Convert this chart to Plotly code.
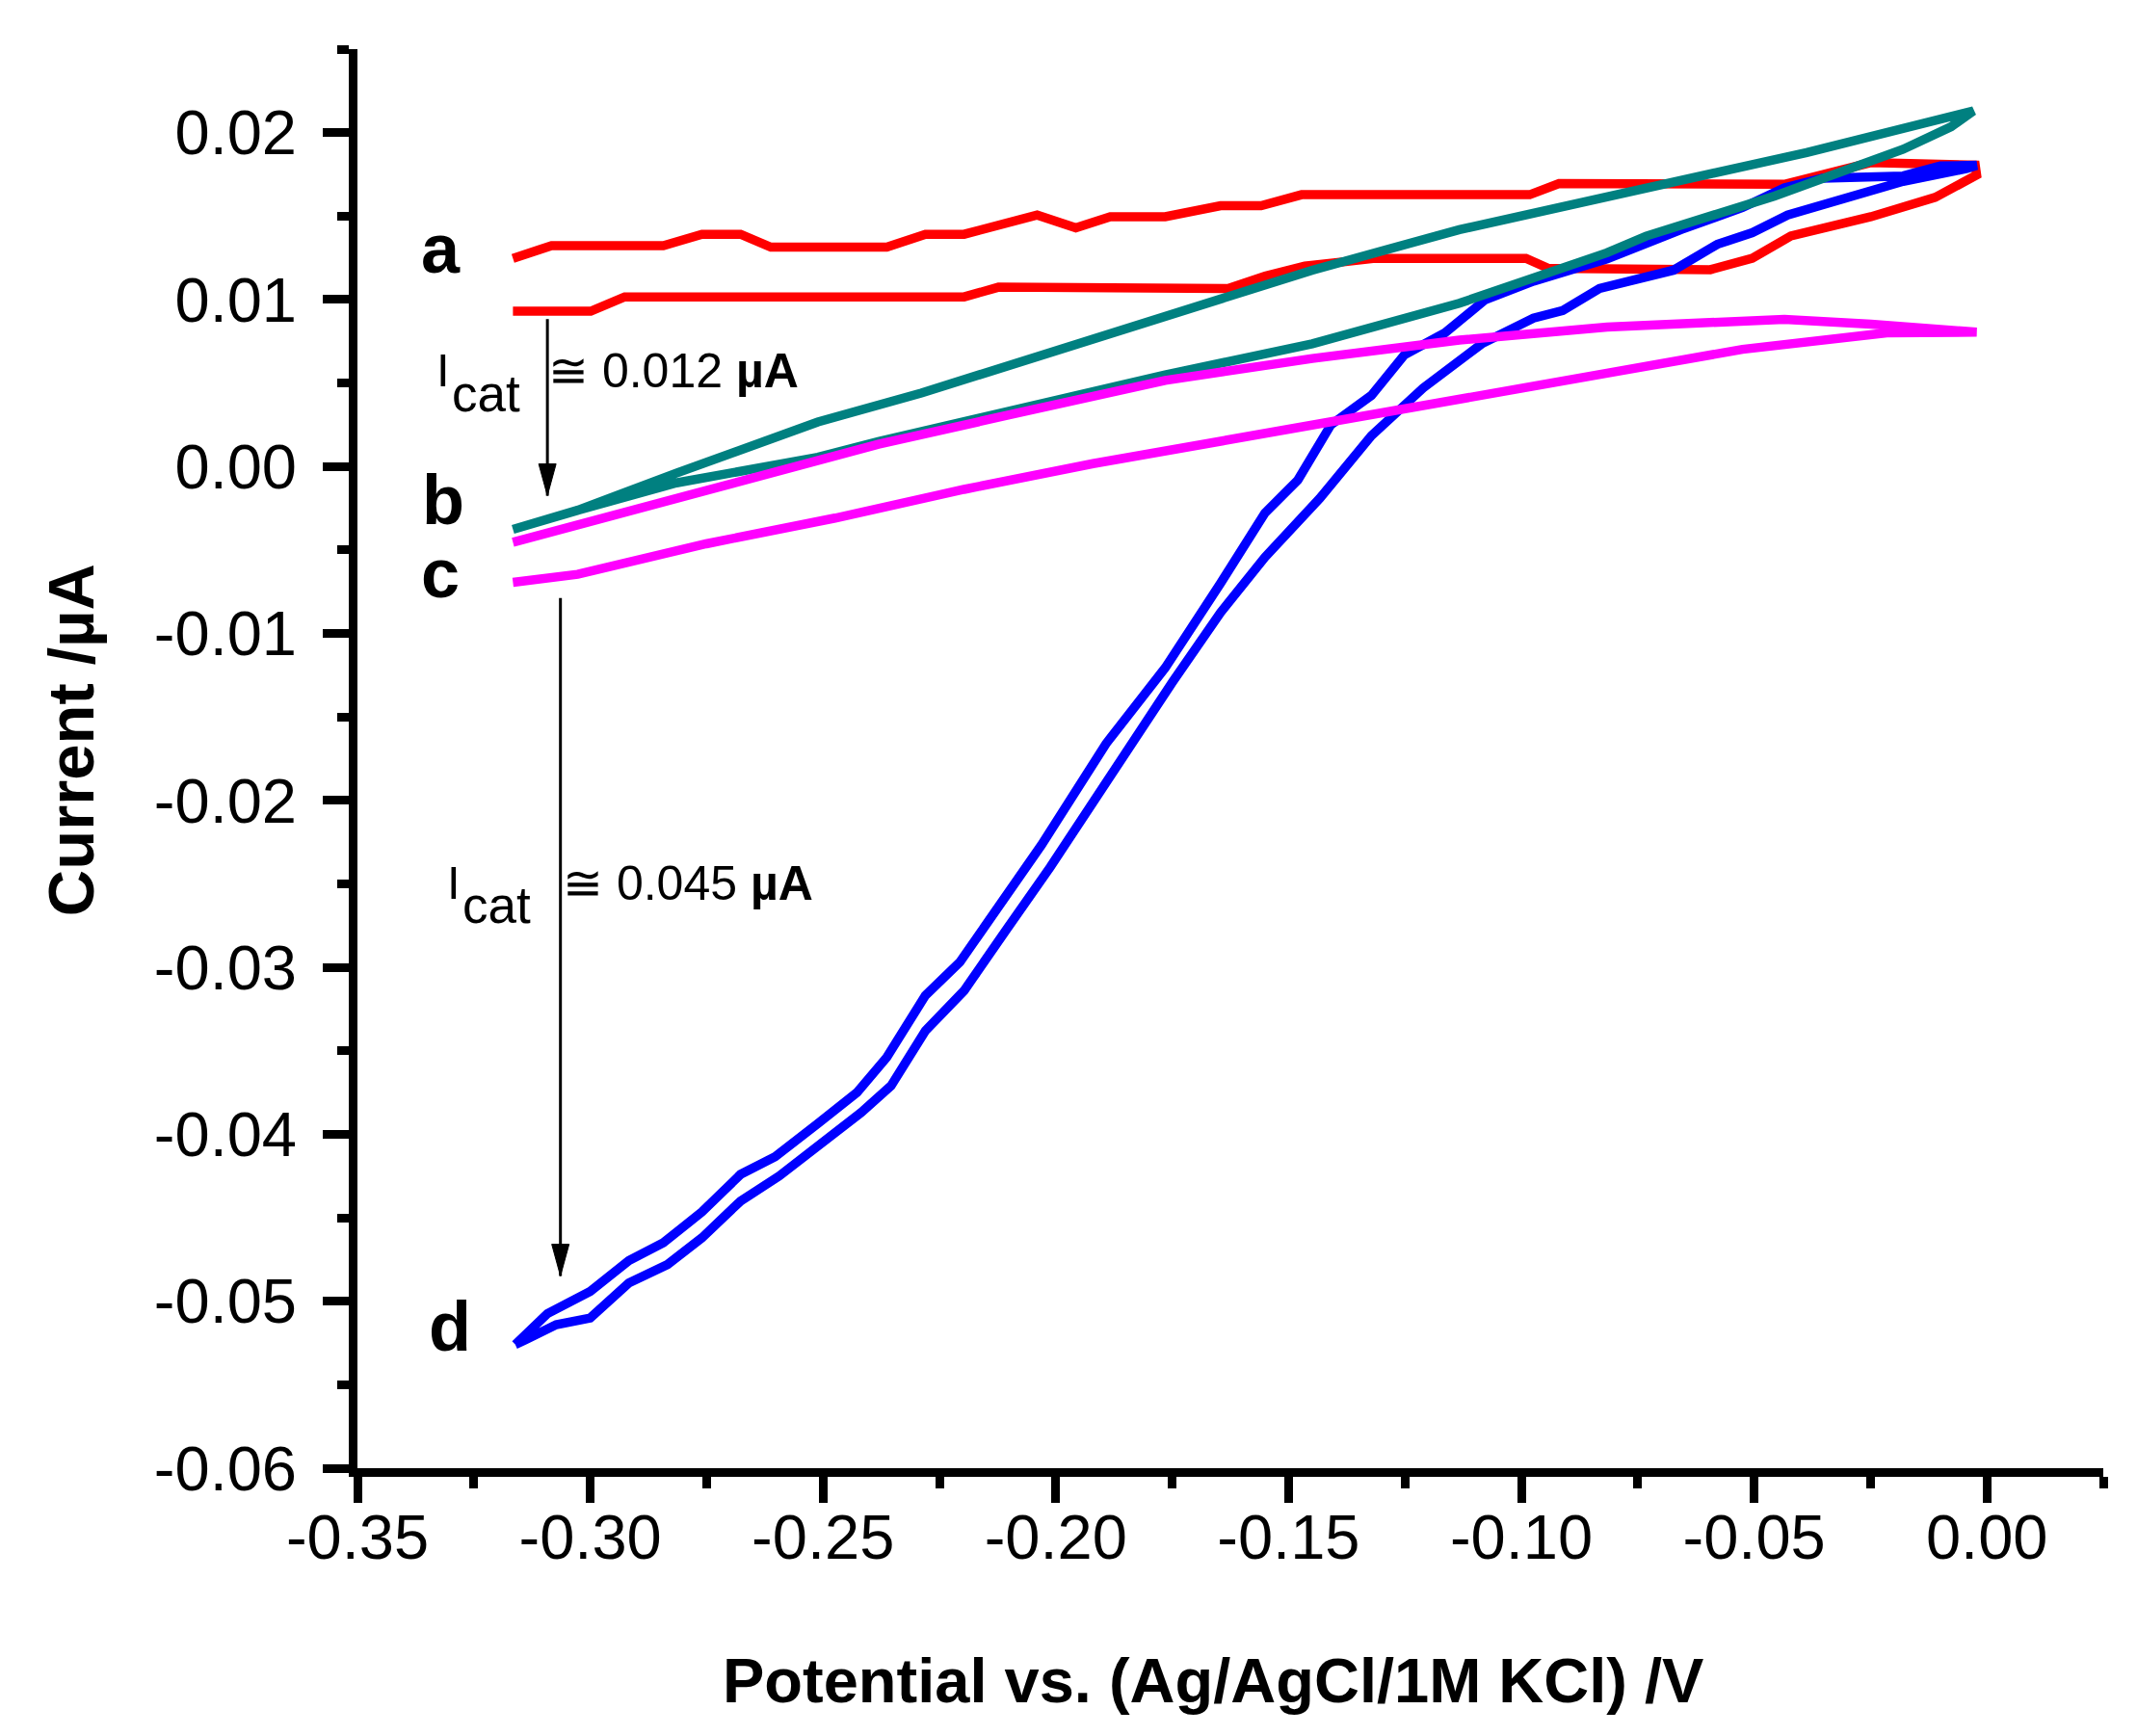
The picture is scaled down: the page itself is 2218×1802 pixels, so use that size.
import plotly.graph_objects as go

# Cyclic voltammograms: potential (V) vs current (uA).
# Each loop starts at the left end, runs along one branch to the right end
# and comes back along the other branch.
potential_a = [-0.3166, -0.3083, -0.2843, -0.2760, -0.2677, -0.2612, -0.2363, -0.2280,
               -0.2197, -0.2040, -0.1957, -0.1883, -0.1765, -0.1646, -0.1559, -0.1472,
               -0.0982, -0.0919, -0.0435, -0.0360, -0.0250, -0.0025,
               -0.0022, -0.0111, -0.0249, -0.0421, -0.0504, -0.0594, -0.0942, -0.0990,
               -0.1314, -0.1465, -0.1550, -0.1630, -0.2123, -0.2197, -0.2926, -0.2999,
               -0.3166]
current_a = [0.01247, 0.01323, 0.01323, 0.01391, 0.01391, 0.01314, 0.01314, 0.01391,
             0.01391, 0.01506, 0.01429, 0.01496, 0.01496, 0.01562, 0.01562, 0.01628,
             0.01628, 0.01695, 0.01690, 0.01740, 0.01820, 0.01805,
             0.01746, 0.01612, 0.01496, 0.01381, 0.01247, 0.01179, 0.01187, 0.01247,
             0.01247, 0.01200, 0.01140, 0.01066, 0.01074, 0.01016, 0.01016, 0.00930,
             0.00930]

potential_b = [-0.3166, -0.3027, -0.2815, -0.2566, -0.2511, -0.2289, -0.2012, -0.1765,
               -0.1449, -0.1133, -0.0816, -0.0525, -0.0387, -0.0029,
               -0.0077, -0.0180, -0.0456, -0.0732, -0.0816, -0.1133, -0.1449, -0.1765,
               -0.2105, -0.2381, -0.2511, -0.2815, -0.3027, -0.3166]
current_b = [-0.00377, -0.00262, -0.00040, 0.00219, 0.00267, 0.00440, 0.00680, 0.00890,
             0.01176, 0.01419, 0.01617, 0.01805, 0.01881, 0.02130,
             0.02035, 0.01900, 0.01620, 0.01380, 0.01280, 0.00978, 0.00735, 0.00548,
             0.00330, 0.00150, 0.00055, -0.00098, -0.00262, -0.00377]

potential_c = [-0.3166, -0.2935, -0.2658, -0.2381, -0.2105, -0.1765, -0.1449, -0.1133,
               -0.0816, -0.0525, -0.0435, -0.0249, -0.0022,
               -0.0215, -0.0456, -0.0525, -0.0816, -0.1133, -0.1449, -0.1765, -0.1920,
               -0.2197, -0.2474, -0.2751, -0.3027, -0.3166]
current_c = [-0.00454, -0.00281, -0.00069, 0.00133, 0.00306, 0.00516, 0.00647, 0.00757,
             0.00835, 0.00867, 0.00882, 0.00853, 0.00805,
             0.00800, 0.00718, 0.00702, 0.00559, 0.00404, 0.00250, 0.00090, 0.00017,
             -0.00137, -0.00309, -0.00463, -0.00646, -0.00694]

potential_d = [-0.3161, -0.3092, -0.3000, -0.2917, -0.2843, -0.2760, -0.2677, -0.2603,
               -0.2511, -0.2427, -0.2363, -0.2280, -0.2206, -0.2123, -0.2031, -0.1892,
               -0.1765, -0.1646, -0.1551, -0.1480, -0.1409, -0.1322, -0.1251, -0.1164,
               -0.1077, -0.0974, -0.0816, -0.0657, -0.0525, -0.0435, -0.0353, -0.0180,
               -0.0100, -0.0022,
               -0.0043, -0.0180, -0.0318, -0.0428, -0.0504, -0.0579, -0.0673, -0.0832,
               -0.0911, -0.0974, -0.1085, -0.1211, -0.1322, -0.1433, -0.1551, -0.1646,
               -0.1749, -0.1874, -0.2012, -0.2105, -0.2197, -0.2280, -0.2354, -0.2418,
               -0.2511, -0.2594, -0.2677, -0.2760, -0.2834, -0.2917, -0.3000, -0.3073,
               -0.3138, -0.3161]
current_d = [-0.05259, -0.05074, -0.04941, -0.04756, -0.04650, -0.04465, -0.04240, -0.04134,
             -0.03935, -0.03750, -0.03539, -0.03168, -0.02969, -0.02639, -0.02268, -0.01660,
             -0.01206, -0.00699, -0.00280, -0.00081, 0.00250, 0.00426, 0.00669, 0.00801,
             0.01000, 0.01110, 0.01243, 0.01419, 0.01551, 0.01669, 0.01727, 0.01740,
             0.01800, 0.01804,
             0.01785, 0.01708, 0.01593, 0.01506, 0.01400, 0.01331, 0.01176, 0.01066,
             0.00934, 0.00889, 0.00735, 0.00470, 0.00184, -0.00191, -0.00544, -0.00875,
             -0.01290, -0.01820, -0.02400, -0.02770, -0.03140, -0.03380, -0.03710, -0.03870,
             -0.04070, -0.04250, -0.04400, -0.04620, -0.04780, -0.04890, -0.05100, -0.05140,
             -0.05230, -0.05259]

# curve letters and where they sit
curve_labels = ["a", "b", "c", "d"]
label_x = [-0.3321, -0.3315, -0.3321, -0.3302]
label_y = [0.01303, -0.00199, -0.00637, -0.05150]

# catalytic current arrows and their captions
arrow_x = [-0.3092, -0.3064]
arrow_top = [0.00883, -0.00788]
arrow_tip = [-0.00175, -0.04849]
icat_values = ["≅ 0.012 <b>µA</b>", "≅ 0.045 <b>µA</b>"]
icat_x = [-0.3094, -0.3063]
icat_y = [0.00745, -0.02322]
icat_i_x = [-0.3334, -0.3312]
icat_sub_x = [-0.3301, -0.3279]
icat_sub_y = [0.00618, -0.02447]

x_ticks = [-0.35, -0.30, -0.25, -0.20, -0.15, -0.10, -0.05, 0.00]
x_labels = ["-0.35", "-0.30", "-0.25", "-0.20", "-0.15", "-0.10", "-0.05", "0.00"]
y_ticks = [-0.06, -0.05, -0.04, -0.03, -0.02, -0.01, 0.00, 0.01, 0.02]
y_labels = ["-0.06", "-0.05", "-0.04", "-0.03", "-0.02", "-0.01", "0.00", "0.01", "0.02"]

x_title = "Potential vs. (Ag/AgCl/1M KCl) /V"
y_title = "Current /µA"

FONT = "Liberation Sans, Arial, sans-serif"

fig = go.Figure()

# drawing order matches the original: red under blue under teal under magenta
for xs, ys, col in [(potential_a, current_a, "#ff0000"),
                    (potential_d, current_d, "#0000ff"),
                    (potential_b, current_b, "#008080"),
                    (potential_c, current_c, "#ff00ff")]:
    fig.add_trace(go.Scatter(x=xs, y=ys, mode="lines",
                             line=dict(color=col, width=9.5),
                             showlegend=False, hoverinfo="skip"))

for lab, lx, ly in zip(curve_labels, label_x, label_y):
    fig.add_annotation(x=lx, y=ly, text="<b>%s</b>" % lab, showarrow=False,
                       xanchor="center", yanchor="middle",
                       font=dict(family=FONT, size=72, color="black"))

for i in range(len(arrow_x)):
    fig.add_shape(type="line", x0=arrow_x[i], x1=arrow_x[i],
                  y0=arrow_top[i], y1=arrow_tip[i],
                  line=dict(color="black", width=3))
    # slender filled head, sized in pixels and pinned to the tip
    fig.add_shape(type="path", xsizemode="pixel", ysizemode="pixel",
                  xanchor=arrow_x[i], yanchor=arrow_tip[i],
                  path="M -9,33 L 9,33 L 0,0 Z",
                  fillcolor="black", line=dict(color="black", width=1))
    # I with a large "cat" subscript, done as two pieces
    fig.add_annotation(x=icat_i_x[i], y=icat_y[i], text="I",
                       showarrow=False, xanchor="left", yanchor="top",
                       font=dict(family=FONT, size=49, color="black"))
    fig.add_annotation(x=icat_sub_x[i], y=icat_sub_y[i], text="cat",
                       showarrow=False, xanchor="left", yanchor="top",
                       font=dict(family=FONT, size=53, color="black"))
    fig.add_annotation(x=icat_x[i], y=icat_y[i], text=icat_values[i],
                       showarrow=False, xanchor="left", yanchor="top",
                       font=dict(family=FONT, size=50, color="black"))

# axis titles sit slightly off-centre in the original, so place them directly
fig.add_annotation(xref="paper", yref="paper", x=0.49, y=-0.150,
                   text="<b>%s</b>" % x_title, showarrow=False,
                   xanchor="center", yanchor="middle",
                   font=dict(family=FONT, size=65, color="black"))
fig.add_annotation(xref="paper", yref="paper", x=-0.164, y=0.513,
                   text="<b>%s</b>" % y_title, showarrow=False, textangle=-90,
                   xanchor="center", yanchor="middle",
                   font=dict(family=FONT, size=67, color="black"))

axis_common = dict(
    showline=True, linecolor="black", linewidth=9, mirror=False,
    showgrid=False, zeroline=False,
    ticks="outside", ticklen=27, tickwidth=9, tickcolor="black",
    tickfont=dict(family=FONT, size=65, color="black"),
    minor=dict(ticks="outside", ticklen=12, tickwidth=9, tickcolor="black",
               showgrid=False),
)

fig.update_layout(
    width=2218, height=1802,
    margin=dict(l=363, r=43, t=43, b=286, autoexpand=False),
    paper_bgcolor="white", plot_bgcolor="white",
    font=dict(family=FONT, color="black"),
    xaxis=dict(axis_common, range=[-0.35, 0.025],
               tickmode="array", tickvals=x_ticks, ticktext=x_labels,
               ticklabelstandoff=-20),
    yaxis=dict(axis_common, range=[-0.06, 0.025],
               tickmode="array", tickvals=y_ticks, ticktext=y_labels,
               ticklabelstandoff=14),
)
fig.update_xaxes(minor=dict(dtick=0.025, tick0=0))
fig.update_yaxes(minor=dict(dtick=0.005, tick0=0))

fig.write_html("out.html")
